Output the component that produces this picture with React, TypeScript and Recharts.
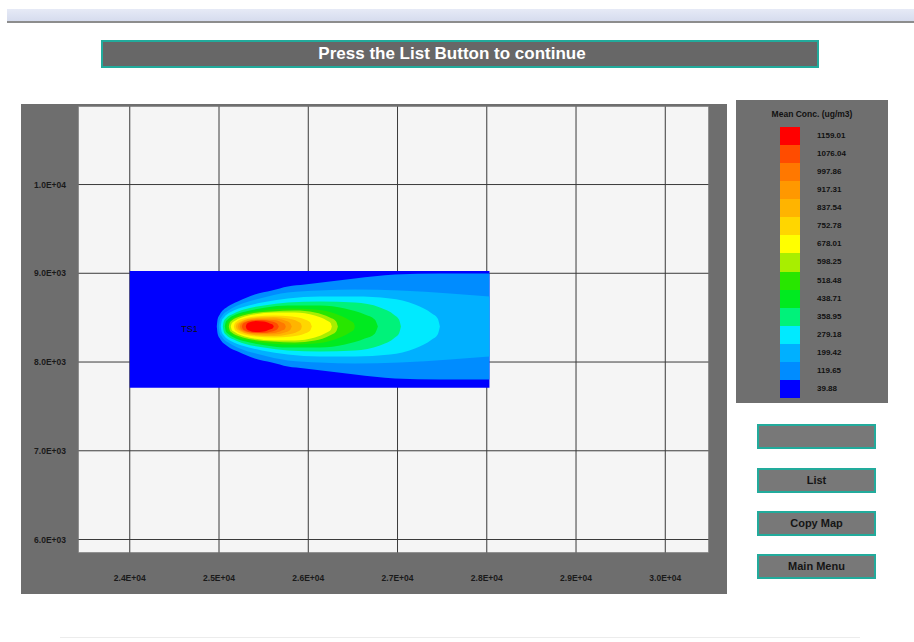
import React from 'react';
import { ComposedChart, Area, XAxis, YAxis, CartesianGrid, ReferenceArea, Scatter } from 'recharts';

// ---------- axes ----------
const X_TICKS = [24000, 25000, 26000, 27000, 28000, 29000, 30000];
const X_TICK_LABELS = ['2.4E+04', '2.5E+04', '2.6E+04', '2.7E+04', '2.8E+04', '2.9E+04', '3.0E+04'];
const Y_TICKS = [6000, 7000, 8000, 9000, 10000];
const Y_TICK_LABELS = ['6.0E+03', '7.0E+03', '8.0E+03', '9.0E+03', '1.0E+04'];
const X_DOMAIN = [23420, 30490];
const Y_DOMAIN = [5848, 10885];

// ---------- legend ----------
const LEGEND_TITLE = 'Mean Conc. (ug/m3)';
const LEVELS = [1159.01, 1076.04, 997.86, 917.31, 837.54, 752.78, 678.01, 598.25, 518.48, 438.71, 358.95, 279.18, 199.42, 119.65, 39.88];
const LEVEL_COLORS = ['#ff0000', '#ff4c00', '#ff7800', '#ff9800', '#ffb400', '#ffd600', '#ffff00', '#a8ee00', '#28e600', '#00ea20', '#00f27a', '#00eaff', '#00b0ff', '#008cff', '#0000ff'];

// ---------- texts ----------
const TITLE = 'Press the List Button to continue';
const BUTTONS = ['', 'List', 'Copy Map', 'Main Menu'];

// ---------- receptor grid & source ----------
const RECEPTOR_X = [24000, 28030];
const RECEPTOR_Y = [7710, 9025];
const PLUME_AXIS_Y = 8400;
const SOURCES = [{ name: 'TS1', x: 24670, y: 8370 }];

// ---------- contour outlines: [x, half-width about plume axis] ----------
const C_119 = [[24975, 0], [24985, 84], [25009, 135], [25099, 225], [25211, 282], [25401, 361], [25592, 406], [25771, 451], [25962, 473], [26522, 541], [26971, 586], [27475, 597], [28030, 597]];
const C_199 = [[24998, 0], [25008, 70], [25031, 113], [25121, 192], [25233, 248], [25457, 316], [25771, 383], [26130, 406], [26522, 417], [27027, 406], [27587, 372], [28030, 338]];
const C_279 = [[25020, 0], [25030, 63], [25054, 101], [25143, 169], [25256, 214], [25480, 270], [25771, 316], [26130, 338], [26522, 338], [26915, 316], [27195, 248], [27385, 147], [27450, 90], [27475, 0]];
const C_359 = [[25043, 0], [25053, 56], [25076, 90], [25166, 147], [25278, 192], [25502, 237], [25771, 270], [26130, 282], [26522, 270], [26803, 214], [26971, 124], [27018, 75], [27038, 0]];
const C_439 = [[25065, 0], [25075, 49], [25099, 79], [25188, 135], [25300, 169], [25525, 214], [25771, 237], [26130, 237], [26410, 203], [26634, 135], [26745, 80], [26780, 0]];
const C_518 = [[25087, 0], [25097, 42], [25121, 68], [25211, 124], [25345, 158], [25569, 192], [25794, 203], [26074, 192], [26298, 147], [26466, 68], [26508, 40], [26522, 0]];
const C_598 = [[25110, 0], [25120, 42], [25143, 68], [25233, 113], [25368, 147], [25592, 169], [25850, 180], [26074, 158], [26242, 101], [26310, 60], [26332, 0]];
const C_678 = [[25132, 0], [25142, 35], [25166, 56], [25256, 101], [25390, 135], [25614, 158], [25850, 158], [26074, 124], [26208, 68], [26250, 40], [26264, 0]];
const C_753 = [[25166, 0], [25176, 35], [25199, 56], [25278, 90], [25412, 113], [25614, 124], [25816, 113], [25962, 79], [26020, 48], [26040, 0]];
const C_838 = [[25188, 0], [25198, 28], [25222, 45], [25300, 79], [25435, 101], [25614, 107], [25771, 90], [25883, 56], [25917, 33], [25928, 0]];
const C_917 = [[25211, 0], [25221, 28], [25244, 45], [25323, 79], [25457, 90], [25614, 90], [25738, 68], [25796, 40], [25816, 0]];
const C_998 = [[25233, 0], [25243, 28], [25267, 45], [25345, 68], [25480, 79], [25614, 73], [25704, 45], [25738, 27], [25749, 0]];
const C_1076 = [[25256, 0], [25266, 28], [25289, 45], [25368, 68], [25480, 73], [25592, 56], [25650, 33], [25670, 0]];
const C_1159 = [[25300, 0], [25310, 28], [25334, 45], [25412, 62], [25502, 56], [25569, 34], [25603, 20], [25614, 0]];

const CONTOURS = [
  { level: 119.65, pts: C_119 },
  { level: 199.42, pts: C_199 },
  { level: 279.18, pts: C_279 },
  { level: 358.95, pts: C_359 },
  { level: 438.71, pts: C_439 },
  { level: 518.48, pts: C_518 },
  { level: 598.25, pts: C_598 },
  { level: 678.01, pts: C_678 },
  { level: 752.78, pts: C_753 },
  { level: 837.54, pts: C_838 },
  { level: 917.31, pts: C_917 },
  { level: 997.86, pts: C_998 },
  { level: 1076.04, pts: C_1076 },
  { level: 1159.01, pts: C_1159 },
];

const colorOf = (lvl: number) => LEVEL_COLORS[LEVELS.indexOf(lvl)];

const receptorData = RECEPTOR_X.map((x) => ({ x, band: [RECEPTOR_Y[0], RECEPTOR_Y[1]] }));

const FONT = '"Liberation Sans", Arial, sans-serif';
const TEAL = '#22ab9c';

const Button = ({ label, top }: { label: string; top: number }) => (
  <div
    style={{
      position: 'absolute', left: 757, top, width: 119, height: 25, boxSizing: 'border-box',
      border: `2px solid ${TEAL}`, background: '#787878', color: '#151515',
      fontFamily: FONT, fontWeight: 'bold', fontSize: 11, lineHeight: '21px', textAlign: 'center',
    }}
  >
    {label}
  </div>
);

const SourceLabel = (p: any) => (
  <text x={p.cx} y={p.cy} textAnchor="middle" dominantBaseline="central" fontFamily={FONT} fontSize={9} fill="#111">
    {p.payload.name}
  </text>
);

export default function App() {
  const swH = (398 - 127) / LEVELS.length;
  return (
    <div style={{ position: 'absolute', left: 0, top: 0, width: 914, height: 642, background: '#ffffff', overflow: 'hidden' }}>
      {/* top window bar */}
      <div style={{ position: 'absolute', left: 7, top: 9, width: 907, height: 12, background: 'linear-gradient(#e6eaf6, #d6dcee)' }} />
      <div style={{ position: 'absolute', left: 7, top: 21, width: 907, height: 2, background: '#8d8d8d' }} />

      {/* title bar */}
      <div
        style={{
          position: 'absolute', left: 101, top: 40, width: 718, height: 28, boxSizing: 'border-box',
          border: `2px solid ${TEAL}`, background: '#676767', color: '#ffffff', paddingRight: 16,
          fontFamily: FONT, fontWeight: 'bold', fontSize: 17, lineHeight: '24px', textAlign: 'center',
        }}
      >
        {TITLE}
      </div>

      {/* chart */}
      <div style={{ position: 'absolute', left: 21, top: 104 }}>
        <ComposedChart
          width={706}
          height={490}
          margin={{ top: 2, right: 18, bottom: 0, left: 0 }}
          style={{ background: '#6e6e6e' }}
        >
          <CartesianGrid stroke="#3a3a3a" fill="#f5f5f5" />
          <XAxis
            type="number"
            dataKey="x"
            domain={X_DOMAIN}
            ticks={X_TICKS}
            interval={0}
            allowDataOverflow
            axisLine={false}
            tickLine={false}
            tickSize={0}
            tickMargin={22}
            height={41}
            tickFormatter={(_v: number, i: number) => X_TICK_LABELS[i]}
            tick={{ fontSize: 8.5, fontWeight: 'bold', fill: '#1a1a1a', fontFamily: FONT }}
          />
          <YAxis
            type="number"
            domain={Y_DOMAIN}
            ticks={Y_TICKS}
            interval={0}
            allowDataOverflow
            axisLine={false}
            tickLine={false}
            tickSize={0}
            tickMargin={12}
            width={57}
            tickFormatter={(_v: number, i: number) => Y_TICK_LABELS[i]}
            tick={{ fontSize: 8.5, fontWeight: 'bold', fill: '#1a1a1a', fontFamily: FONT }}
          />
          <Area
            data={receptorData}
            dataKey="band"
            type="linear"
            stroke="none"
            fill={colorOf(39.88)}
            fillOpacity={1}
            dot={false}
            activeDot={false}
            isAnimationActive={false}
          />
          {CONTOURS.map((c) => (
            <Area
              key={c.level}
              data={c.pts.map(([x, h]) => ({ x, band: [PLUME_AXIS_Y - h, PLUME_AXIS_Y + h] }))}
              dataKey="band"
              type="monotone"
              stroke="none"
              fill={colorOf(c.level)}
              fillOpacity={1}
              dot={false}
              activeDot={false}
              isAnimationActive={false}
            />
          ))}
          <Scatter data={SOURCES} dataKey="y" shape={SourceLabel} isAnimationActive={false} />
          <ReferenceArea
            x1={X_DOMAIN[0]}
            x2={X_DOMAIN[1]}
            y1={Y_DOMAIN[0]}
            y2={Y_DOMAIN[1]}
            fill="none"
            stroke="#8a8a8a"
            strokeWidth={1}
          />
        </ComposedChart>
      </div>

      {/* legend */}
      <div style={{ position: 'absolute', left: 736, top: 100, width: 152, height: 303, background: '#6f6f6f' }}>
        <div
          style={{
            position: 'absolute', left: 0, top: 9, width: 152, textAlign: 'center',
            fontFamily: FONT, fontWeight: 'bold', fontSize: 8.5, color: '#111', lineHeight: '10px',
          }}
        >
          {LEGEND_TITLE}
        </div>
        {LEVELS.map((lv, i) => (
          <React.Fragment key={lv}>
            <div style={{ position: 'absolute', left: 44, top: 27 + i * swH, width: 20, height: swH + 0.5, background: LEVEL_COLORS[i] }} />
            <div
              style={{
                position: 'absolute', left: 81, top: 27 + i * swH, height: swH, lineHeight: `${swH}px`,
                fontFamily: FONT, fontWeight: 'bold', fontSize: 8, color: '#111',
              }}
            >
              {lv.toFixed(2)}
            </div>
          </React.Fragment>
        ))}
      </div>

      {/* buttons */}
      <Button label={BUTTONS[0]} top={424} />
      <Button label={BUTTONS[1]} top={468} />
      <Button label={BUTTONS[2]} top={511} />
      <Button label={BUTTONS[3]} top={554} />

      {/* faint bottom rule */}
      <div style={{ position: 'absolute', left: 60, top: 637, width: 800, height: 1, background: '#ececec' }} />
    </div>
  );
}
